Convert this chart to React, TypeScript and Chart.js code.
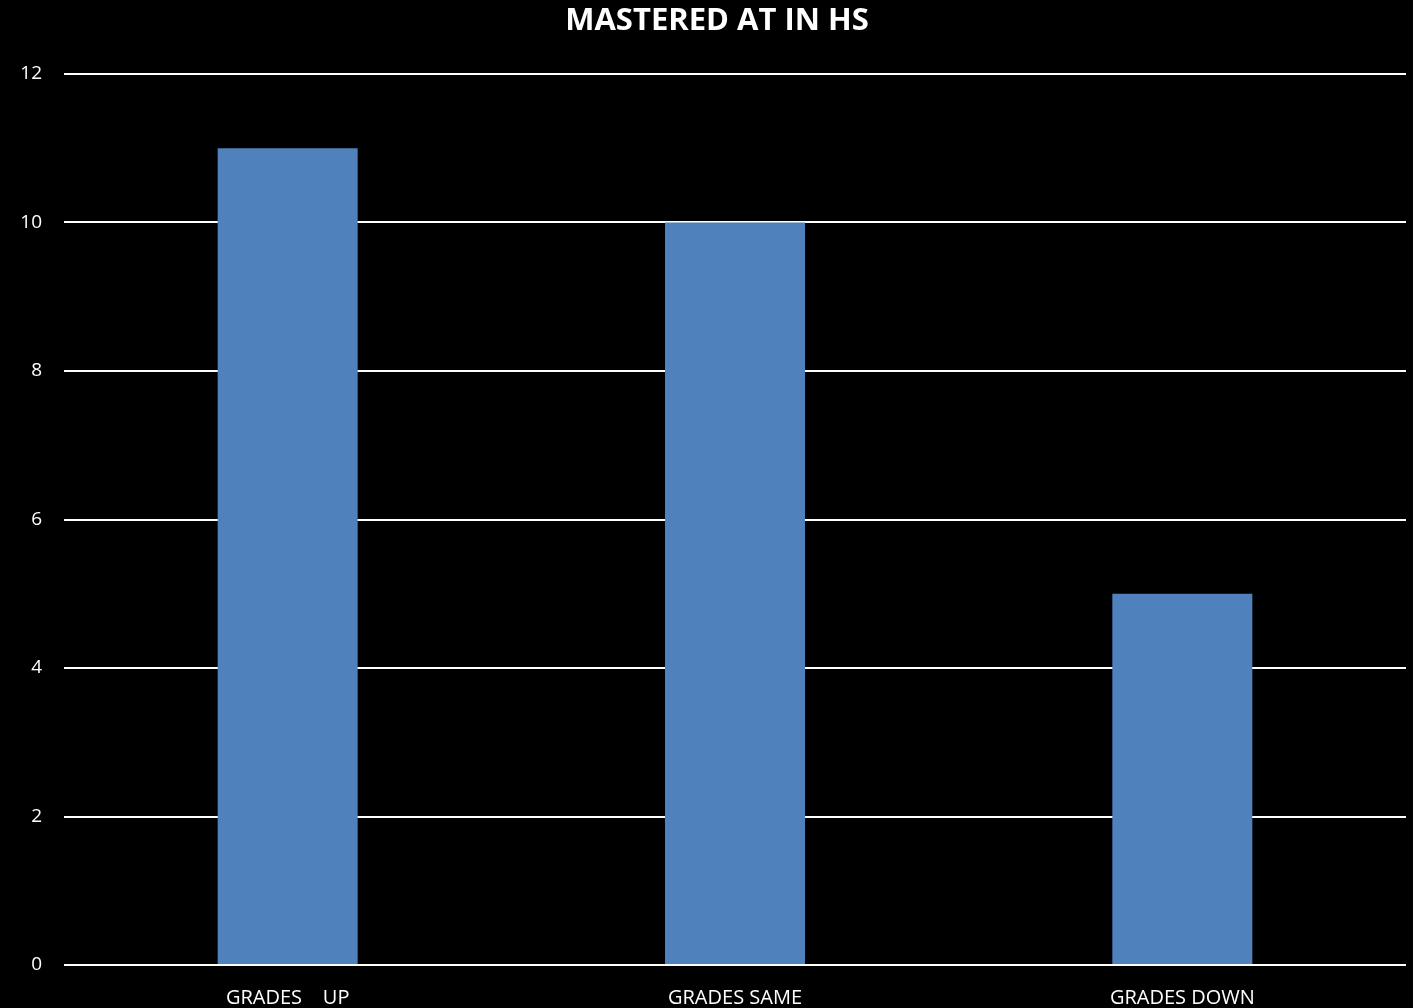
import React, { useEffect, useRef } from "react";
import { Chart, registerables } from "chart.js";

Chart.register(...registerables);

const categories = ["GRADES    UP", "GRADES SAME", "GRADES DOWN"];
const values = [11, 10, 5];
const yTicks = [0, 2, 4, 6, 8, 10, 12];
const titleText = "MASTERED AT IN HS";

const FONT = "'Open Sans', 'Noto Sans', sans-serif";

// Heading drawn slightly right of the canvas centre, above the plot.
const headingPlugin = {
  id: "heading",
  afterDraw(chart: any) {
    const ctx = chart.ctx;
    ctx.save();
    ctx.fillStyle = "#ffffff";
    ctx.font = `bold 31px ${FONT}`;
    ctx.textAlign = "center";
    ctx.textBaseline = "middle";
    ctx.fillText(titleText, 717, 21);
    ctx.restore();
  },
};

export default function App() {
  const canvasRef = useRef<HTMLCanvasElement | null>(null);

  useEffect(() => {
    document.body.style.margin = "0";
    document.body.style.background = "#000";
    const canvas = canvasRef.current;
    if (!canvas) return;

    const chart = new Chart(canvas, {
      type: "bar",
      data: {
        labels: categories,
        datasets: [
          {
            data: values,
            backgroundColor: "#4F81BD",
            borderWidth: 0,
            barPercentage: 0.313,
            categoryPercentage: 1,
          },
        ],
      },
      options: {
        animation: false,
        responsive: false,
        maintainAspectRatio: false,
        layout: { padding: { left: 0, right: 7, top: 74, bottom: 0 } },
        plugins: {
          legend: { display: false },
          tooltip: { enabled: false },
          title: { display: false },
        },
        scales: {
          x: {
            afterFit: (scale: any) => {
              scale.height = 43;
            },
            grid: { display: false, drawTicks: false },
            border: { display: false },
            ticks: {
              color: "#ffffff",
              font: { family: FONT, size: 20 },
              padding: 21,
              maxRotation: 0,
              autoSkip: false,
            },
          },
          y: {
            min: 0,
            max: 12,
            afterBuildTicks: (scale: any) => {
              scale.ticks = yTicks.map((v) => ({ value: v }));
            },
            afterFit: (scale: any) => {
              scale.width = 64;
            },
            grid: { color: "#ffffff", lineWidth: 2, drawTicks: false },
            border: { display: false },
            ticks: {
              color: "#ffffff",
              font: { family: FONT, size: 19 },
              padding: 22,
            },
          },
        },
      },
      plugins: [headingPlugin],
    });

    return () => chart.destroy();
  }, []);

  return (
    <div style={{ width: 1413, height: 1008, background: "#000" }}>
      <canvas ref={canvasRef} width={1413} height={1008} style={{ display: "block" }} />
    </div>
  );
}
